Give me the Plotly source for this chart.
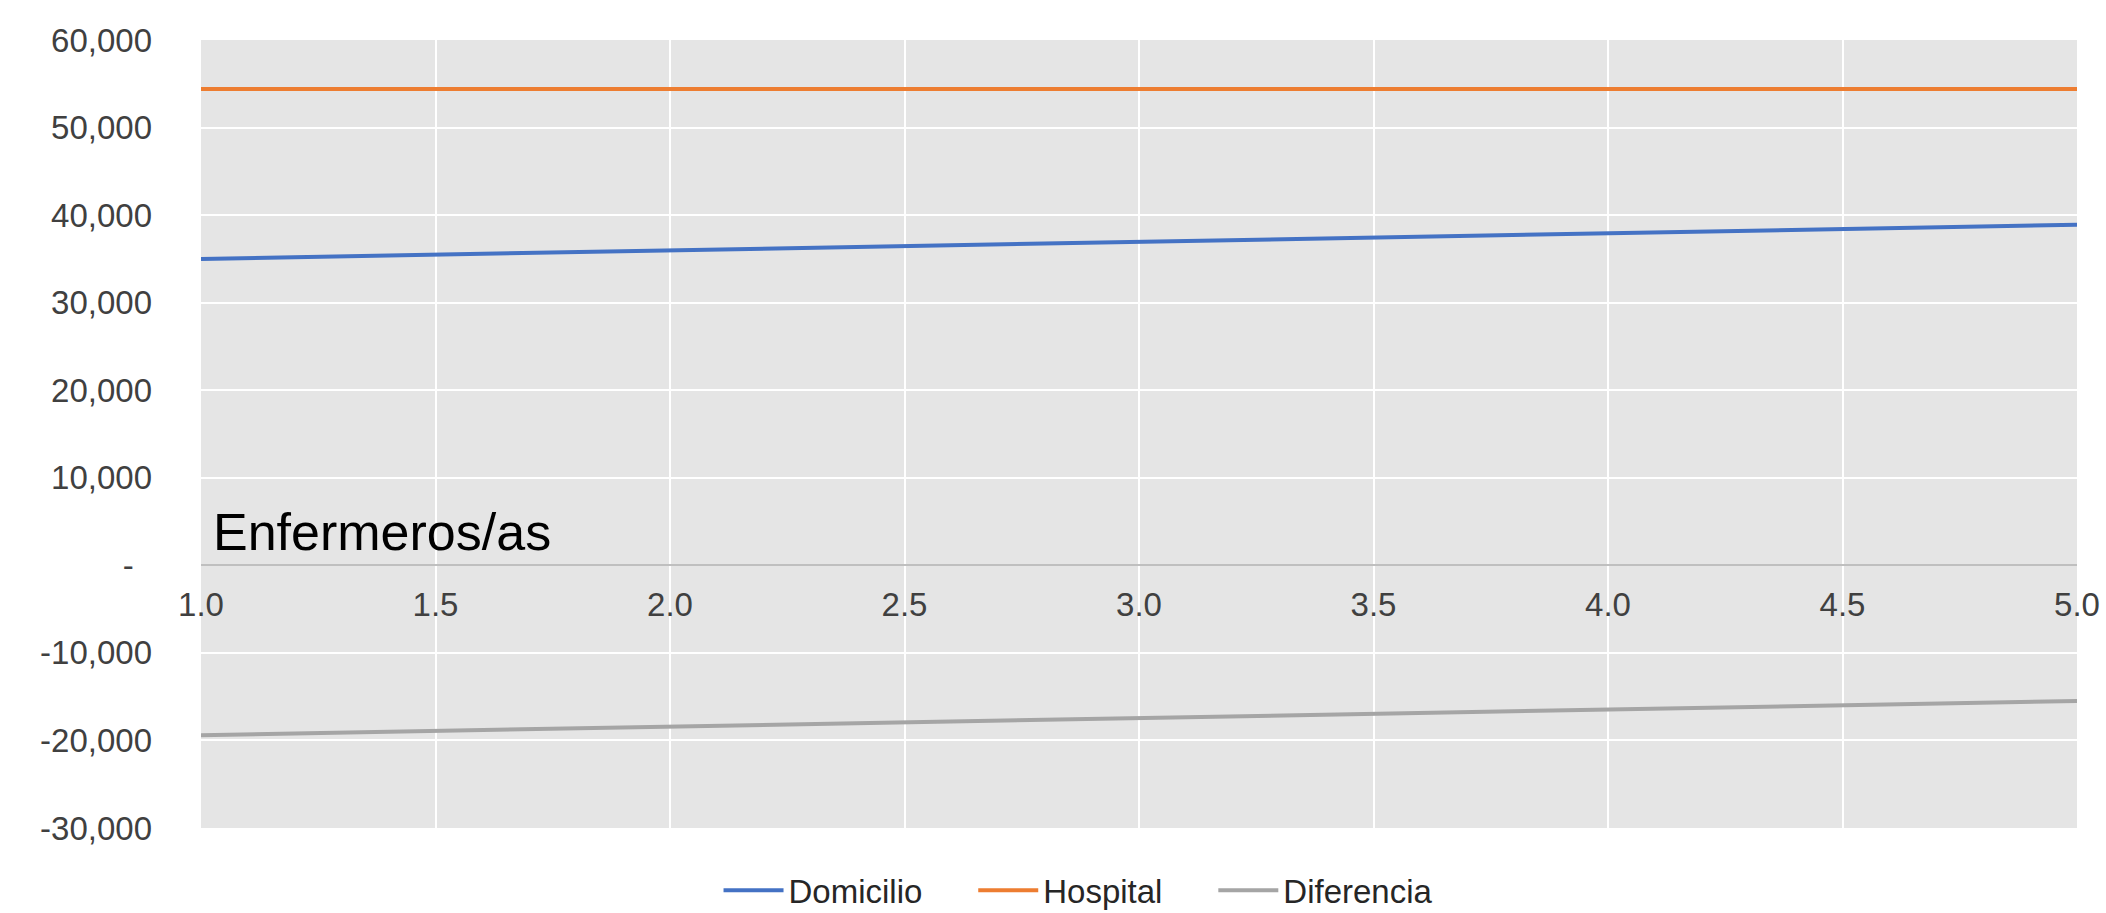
import plotly.graph_objects as go

x_vals = [1.0, 2.0, 3.0, 4.0, 5.0]
domicilio = [35000, 36000, 36950, 37900, 38900]
hospital = [54400, 54400, 54400, 54400, 54400]
diferencia = [-19400, -18400, -17450, -16500, -15500]

y_ticks = [-30000, -20000, -10000, 0, 10000, 20000, 30000, 40000, 50000, 60000]
y_labels = ["-30,000", "-20,000", "-10,000", "-\u00a0\u00a0", "10,000", "20,000",
            "30,000", "40,000", "50,000", "60,000"]
x_ticks = [1.0, 1.5, 2.0, 2.5, 3.0, 3.5, 4.0, 4.5, 5.0]
x_labels = ["1.0", "1.5", "2.0", "2.5", "3.0", "3.5", "4.0", "4.5", "5.0"]

series_names = ["Domicilio", "Hospital", "Diferencia"]
gap = "\u00a0" * 5

fig = go.Figure()
fig.add_trace(go.Scatter(x=x_vals, y=domicilio, mode="lines", name=series_names[0] + gap,
                         line=dict(color="#4472C4", width=4)))
fig.add_trace(go.Scatter(x=x_vals, y=hospital, mode="lines", name=series_names[1] + gap,
                         line=dict(color="#ED7D31", width=4)))
fig.add_trace(go.Scatter(x=x_vals, y=diferencia, mode="lines", name=series_names[2],
                         line=dict(color="#A5A5A5", width=4)))

fig.add_annotation(text="Enfermeros/as", xref="x", yref="y", x=1.0, y=0,
                   xanchor="left", yanchor="bottom", xshift=10, yshift=2,
                   showarrow=False, font=dict(size=52, color="#000000",
                                              family="Liberation Sans, Arial, sans-serif"))

fig.update_layout(
    width=2106, height=913,
    margin=dict(l=201, r=29, t=40, b=85, autoexpand=False),
    paper_bgcolor="#FFFFFF",
    plot_bgcolor="#E5E5E5",
    font=dict(family="Liberation Sans, Arial, sans-serif", size=33, color="#404040"),
    showlegend=True,
    legend=dict(orientation="h", x=0.4675, xanchor="center", y=-0.079, yanchor="middle",
                font=dict(size=33, color="#262626"), itemwidth=60,
                bgcolor="rgba(0,0,0,0)"),
    xaxis=dict(range=[1, 5], tickvals=x_ticks, ticktext=x_labels,
               showgrid=True, gridcolor="#FFFFFF", gridwidth=2,
               zeroline=False, showline=True, linecolor="#BFBFBF", linewidth=2,
               anchor="free", position=1/3,
               ticks="outside", ticklen=10, tickcolor="rgba(0,0,0,0)",
               tickfont=dict(size=33, color="#404040")),
    yaxis=dict(range=[-30000, 60000], tickvals=y_ticks, ticktext=y_labels,
               showgrid=True, gridcolor="#FFFFFF", gridwidth=2,
               zeroline=False, showline=False,
               ticks="", ticklabelstandoff=48,
               tickfont=dict(size=33, color="#404040")),
)

fig.write_html("out.html", config={"displayModeBar": False},
               post_script="document.body.style.margin='0';document.body.style.overflow='hidden';")
